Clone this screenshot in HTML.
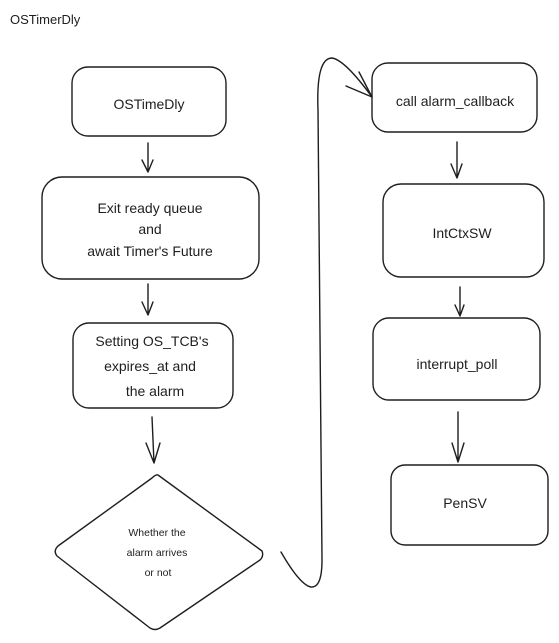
<!DOCTYPE html>
<html><head><meta charset="utf-8"><style>
html,body{margin:0;padding:0;background:#fff;}
svg{display:block;}
text{font-family:"Liberation Sans","DejaVu Sans",sans-serif;fill:#1e1e1e;}
</style></head><body>
<svg width="559" height="643" viewBox="0 0 559 643" xmlns="http://www.w3.org/2000/svg">
<g fill="none" stroke="#1e1e1e" stroke-width="1.4" stroke-linecap="round" stroke-linejoin="round">
<rect x="72" y="67" width="154" height="69" rx="16"/>
<rect x="42" y="177" width="217" height="102" rx="20"/>
<rect x="73" y="323" width="160" height="85" rx="16"/>
<path d="M158 475 L262 551 Q264 556 260 560 L160 628 Q155 631 150 628 L57 556 Q53 551 58 546 L152 478 Q156 474 158 475Z"/>
<rect x="372" y="63" width="165" height="69" rx="16"/>
<rect x="383" y="184" width="161" height="93" rx="18"/>
<rect x="373" y="318" width="167" height="82" rx="16"/>
<rect x="391" y="465" width="157" height="80" rx="14"/>
<!-- arrows -->
<path d="M148 143 L148 172 M142 160 L148 172 L153 160"/>
<path d="M148 284 L148 315 M142 302 L148 315 L153 302"/>
<path d="M152 417 L154 463 M146 443 L154 463 L160 443"/>
<path d="M457 142 L457 178 M451 164 L457 178 L462 164"/>
<path d="M460 287 L460 316 M455 305 L460 316 L464 305"/>
<path d="M458 412 L458 462 M452 443 L458 462 L464 443"/>
<!-- curve -->
<path d="M281 552 Q300 585 311 587 Q322 588 322 560 L318 110 Q316 58 332 58 Q345 60 372 97"/>
<path d="M359 72 L372 97 M346 86 L372 97"/>
</g>
<text x="10" y="24" font-size="13">OSTimerDly</text>
<g font-size="14" text-anchor="middle">
<text x="149" y="109">OSTimeDly</text>
<text x="150" y="213">Exit ready queue</text>
<text x="150" y="234">and</text>
<text x="150" y="256">await Timer's Future</text>
<text x="152" y="346">Setting OS_TCB's</text>
<text x="150" y="371">expires_at and</text>
<text x="155" y="396">the alarm</text>
<text x="455" y="106">call alarm_callback</text>
<text x="462" y="238">IntCtxSW</text>
<text x="457" y="369">interrupt_poll</text>
<text x="465" y="508">PenSV</text>
</g>
<g font-size="10.5" text-anchor="middle">
<text x="157" y="536">Whether the</text>
<text x="157" y="556">alarm arrives</text>
<text x="158" y="576">or not</text>
</g>
</svg>
</body></html>
